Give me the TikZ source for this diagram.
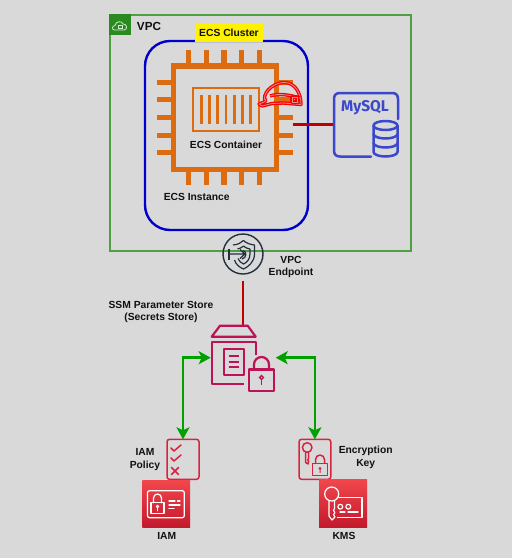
\documentclass[tikz,border=0pt]{standalone}
\usepackage{fontspec}
\setmainfont{Liberation Sans}
\newfontfamily\dbfont{Fira Sans}
\usetikzlibrary{arrows.meta,calc}
\definecolor{bgc}{HTML}{D9D9D9}
\definecolor{vpcg}{HTML}{4F9F45}
\definecolor{vpcd}{HTML}{2B8A1F}
\definecolor{ecsblue}{HTML}{0000CC}
\definecolor{ecsor}{HTML}{DD6B10}
\definecolor{dbblue}{HTML}{3B48CC}
\definecolor{linkred}{HTML}{C00000}
\definecolor{ssm}{HTML}{BC1356}
\definecolor{arrowg}{HTML}{00A000}
\definecolor{polred}{HTML}{D6243E}
\definecolor{epc}{HTML}{232F3E}
\definecolor{txt}{HTML}{111111}
\definecolor{tiletop}{HTML}{F2474C}
\definecolor{tilebot}{HTML}{C2182C}
\tikzset{
 lbl/.style={font=\bfseries\fontsize{10.3}{12.4}\selectfont,text=txt,align=center,inner sep=0pt},
 pin/.style={draw=ecsor,line width=5.5pt},
 slat/.style={draw=ecsor,line width=2.6pt},
 dbline/.style={draw=dbblue,line width=2.5pt,line cap=round,line join=round},
 ssmline/.style={draw=ssm,line width=2.2pt,line join=round},
 pol/.style={draw=polred,line width=1.5pt,line join=round,line cap=round},
 wht/.style={draw=white,line width=1.2pt,line join=round,line cap=round},
 redlink/.style={draw=linkred,line width=2.4pt},
 grn/.style={draw=arrowg,line width=2.5pt,{Stealth[length=12pt,width=13pt,inset=3pt]}-{Stealth[length=12pt,width=13pt,inset=3pt]}},
 hat/.style={draw=red,line width=1.3pt,double=red!35!bgc,double distance=0.8pt,line join=round},
 anch/.style={inner sep=0pt,outer sep=0pt},
 tile/.style={top color=tiletop,bottom color=tilebot,draw=none},
}
\begin{document}
\begin{tikzpicture}[x=1pt,y=-1pt]
\useasboundingbox (0,0) rectangle (512,558);
\fill[bgc] (0,0) rectangle (512,558);
% VPC
\node[anch,draw=vpcg,line width=2pt,minimum width=301pt,minimum height=236pt] (vpc) at (260,132.5) {};
\fill[vpcd] (109,14) rectangle (131,35);
\draw[white!80!vpcd,line width=.8pt,line join=round] (114.5,30) .. controls (111.5,30) and (112,25.5) .. (115,25.5) .. controls (115.5,21) and (122,20.5) .. (123,24) .. controls (127,23.5) and (128,30) .. (124,30) -- cycle;
\draw[white!80!vpcd,line width=.6pt] (118,25.5) rectangle (122,28.5);
\node[lbl,font=\bfseries\fontsize{11.7}{14}\selectfont] (vpclbl) at (149,26.5) {VPC};
% ECS instance
\node[anch,draw=ecsblue,line width=2.4pt,rounded corners=25pt,minimum width=163pt,minimum height=189pt] (inst) at (226.5,135.5) {};
\node[anch,fill=yellow,minimum width=68pt,minimum height=18pt,lbl] (cluster) at (229,33) {ECS Cluster};
% chip
\node[anch,draw=ecsor,line width=5.5pt,minimum width=103pt,minimum height=103.5pt] (chip) at (225,117.75) {};
\foreach \x in {188.7,206.3,224,241.7,259.3}{
 \draw[pin] (\x,50) -- (\x,64);
 \draw[pin] (\x,171) -- (\x,185);
}
\foreach \y in {82.3,99.7,117.3,135.3,152.7}{
 \draw[pin] (157,\y) -- (172,\y);
 \draw[pin] (278,\y) -- (292.7,\y);
}
% container
\draw[draw=ecsor,line width=2pt] (192.7,88) rectangle (259,130.7);
\foreach \x in {201.3,209.7,217.7,226,234.3,242.3,250.7}{\draw[slat] (\x,95) -- (\x,124);}
\node[lbl] (contlbl) at (226,144.5) {ECS Container};
\node[lbl] (instlbl) at (196.7,196.5) {ECS Instance};
% helmet
\draw[hat] (259,104) .. controls (264,102) and (268,101) .. (264.5,99) .. controls (264,90) and (276,82) .. (285,82.5) .. controls (295,83) and (301,93) .. (301,104.5) -- (283,103) -- (272,103.5) -- (262,106) -- cycle;
\draw[hat] (270,96) .. controls (279,93) and (290,95) .. (300,98);
\draw[hat] (292,97) rectangle (297,102);
% MySQL
\node[anch,minimum width=66pt,minimum height=65pt] (mysql) at (366,124.5) {};
\draw[dbline] (371,156.5) -- (340,156.5) .. controls (336,156.5) and (334,154.5) .. (334,150.5) -- (334,99) .. controls (334,95) and (336,93) .. (340,93) -- (392,93) .. controls (396,93) and (398,95) .. (398,99) -- (398,119);
\node[anch,text=dbblue,font=\dbfont\bfseries\fontsize{15.5}{16}\selectfont] (mysqltxt) at (365,107.5) {MySQL};
\fill[bgc] (373,122) rectangle (398.5,158);
\draw[dbline] (373.5,125.5) arc[start angle=180,end angle=540,x radius=12,y radius=4.5];
\draw[dbline] (373.5,125.5) -- (373.5,152) arc[start angle=180,end angle=0,x radius=12,y radius=4.5] -- (397.5,125.5);
\draw[dbline] (373.5,134) arc[start angle=180,end angle=0,x radius=12,y radius=4.5];
\draw[dbline] (373.5,143) arc[start angle=180,end angle=0,x radius=12,y radius=4.5];
\coordinate (chipout) at (292.7,124.3);
\draw[redlink] (chipout) -- (chipout -| mysql.west);
% endpoint
\node[anch,circle,draw=epc,line width=1.4pt,minimum size=40pt] (ep) at (243,254) {};
\begin{scope}[draw=epc,line width=1.2pt,line join=round]
\draw[draw=epc] (233,245) .. controls (238,244.5) and (241,243) .. (243.5,240.5) .. controls (246,243) and (250,244.5) .. (254.5,245) -- (254.5,254) .. controls (254.5,262) and (248,267) .. (243.5,269) .. controls (240,267.5) and (236,265) .. (234.5,260);
\draw[draw=epc] (237.5,249) .. controls (240,248.5) and (242,247.5) .. (243.5,246) .. controls (245,247.5) and (247,248.5) .. (250,249) -- (250,254) .. controls (250,259) and (247,262.5) .. (243.5,264) .. controls (241,263) and (239,261) .. (238,258.5);
\draw[draw=epc] (243,250.5) .. controls (247.5,251.5) and (246.5,258) .. (242,259);
\draw[draw=epc] (228,254) -- (244.5,254) (240,249.5) -- (245,254) -- (240,258.5);
\draw[draw=epc] (229,248.5) -- (229,259.5);
\end{scope}
\node[lbl] (eplbl) at (291,267) {VPC\\Endpoint};
\node[lbl] (ssmlbl) at (161,312) {SSM Parameter Store\\(Secrets Store)};
% store
\node[anch,minimum width=44pt,minimum height=59pt] (store) at (233.7,355) {};
\coordinate (epout) at (243,280.5);
\draw[redlink] (epout) -- (epout |- store.north);
\draw[ssmline] (211.7,336.7) -- (220,325.7) -- (247.7,325.7) -- (255.7,336.7) -- cycle;
\draw[ssmline] (255.7,355) -- (255.7,341.7) -- (211.7,341.7) -- (211.7,384) -- (244,384);
\draw[ssmline] (224,349) rectangle (244,375);
\foreach \y in {356,362,367}{\draw[ssmline,line width=1.6pt] (228.5,\y) -- (239,\y);}
\draw[ssmline] (249,369.5) rectangle (274,390.7);
\draw[ssmline] (254,369.5) -- (254,364.5) arc[start angle=180,end angle=360,radius=7.5] -- (269,369.5);
\draw[ssm,line width=1.4pt] (261.6,377.5) circle (1.9pt);
\draw[ssm,line width=1.4pt] (261.6,379.5) -- (261.6,385);
% policy
\node[anch,draw=polred,line width=1.5pt,rounded corners=2.5pt,minimum width=32pt,minimum height=40pt] (policy) at (183,459.3) {};
\draw[pol] (171,448) -- (174,451) -- (181,445);
\draw[pol] (171,458) -- (174,461) -- (181,455);
\draw[pol] (171.5,467.5) -- (178.5,474.5) (178.5,467.5) -- (171.5,474.5);
\node[lbl] (pollbl) at (145,459.5) {IAM\\Policy};
% iam
\node[anch,tile,minimum width=47.7pt,minimum height=47.7pt] (iam) at (166.2,503.9) {};
\draw[wht,rounded corners=2pt] (147.5,490.7) rectangle (184.3,517.7);
\draw[wht] (151,502.7) rectangle (164,513.5);
\draw[wht] (153.5,502.7) -- (153.5,498) arc[start angle=180,end angle=360,radius=4] -- (161.5,502.7);
\draw[wht,line width=.8pt] (157.5,506.5) circle (1.3pt) (157.5,508) -- (157.5,511);
\draw[wht] (169,501) -- (175,501) (177.5,501) -- (180,501) (169,505) -- (180,505) (169,508.5) -- (174,508.5);
\node[lbl] (iamlbl) at (166.7,536) {IAM};
% key
\node[anch,draw=polred,line width=1.5pt,rounded corners=2.5pt,minimum width=31.7pt,minimum height=40pt] (key) at (314.9,459.3) {};
\draw[pol] (307.2,447.5) circle (4.8pt);
\draw[pol] (305.7,452) -- (305.7,462.5) -- (308,464) -- (308.7,461.5) -- (307.8,460) -- (308.7,458) -- (308.7,452);
\draw[pol] (312.3,463.3) rectangle (327.7,475.7);
\draw[pol] (315.5,463.3) -- (315.5,459.5) arc[start angle=180,end angle=360,radius=4.5] -- (324.5,463.3);
\draw[pol,line width=1pt] (320,468.5) circle (1pt) (320,469.5) -- (320,472.5);
\node[lbl] (keylbl) at (365.7,457.5) {Encryption\\Key};
% kms
\node[anch,tile,minimum width=48pt,minimum height=48.4pt] (kms) at (343,503.5) {};
\draw[wht] (331.7,494) circle (7pt);
\draw[wht] (329,501) -- (329,516) -- (332,520) -- (335,517) -- (333.5,514.5) -- (335,512.5) -- (333.5,510.5) -- (334.5,508.5) -- (334.5,501);
\draw[wht] (337.5,497.5) -- (362,497.5) -- (362,517.5) -- (337.5,517.5);
\draw[wht] (340.3,506.7) circle (2.4pt) (348.3,506.7) circle (2.4pt);
\draw[wht] (340,512) -- (345,512) (348,512) -- (358,512);
\node[lbl] (kmslbl) at (344,536) {KMS};
% green connectors
\coordinate (storel) at (210.7,357.7);
\coordinate (storer) at (275.7,357.7);
\draw[grn] (storel) -| (policy.north);
\draw[grn] (storer) -| (key.north);
\end{tikzpicture}
\end{document}
